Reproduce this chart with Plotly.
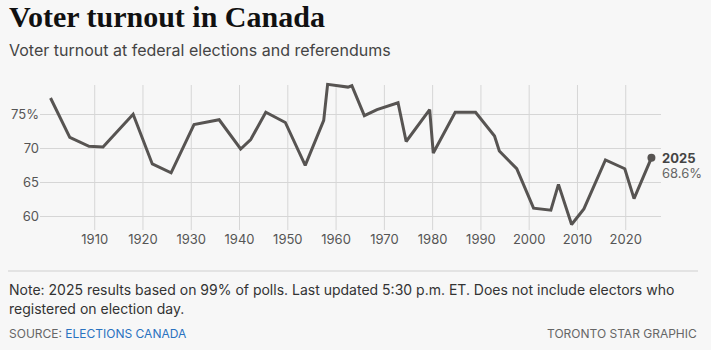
import plotly.graph_objects as go

dates = ["1900-11-07", "1904-11-03", "1908-10-26", "1911-09-21", "1917-12-17",
         "1921-12-06", "1925-10-29", "1930-07-28", "1935-10-14", "1940-03-26",
         "1942-04-27", "1945-06-11", "1949-06-27", "1953-08-10", "1957-06-10",
         "1958-03-31", "1962-06-18", "1963-04-08", "1965-11-08", "1968-06-25",
         "1972-10-30", "1974-07-08", "1979-05-22", "1980-02-18", "1984-09-04",
         "1988-11-21", "1992-10-26", "1993-10-25", "1997-06-02", "2000-11-27",
         "2004-06-28", "2006-01-23", "2008-10-14", "2011-05-02", "2015-10-19",
         "2019-10-21", "2021-09-20", "2025-04-28"]
turnout = [77.4, 71.6, 70.3, 70.2, 75.0,
           67.7, 66.4, 73.5, 74.2, 69.9,
           71.3, 75.3, 73.8, 67.5, 74.1,
           79.4, 79.0, 79.2, 74.8, 75.7,
           76.7, 71.0, 75.7, 69.3, 75.3,
           75.3, 71.8, 69.6, 67.0, 61.2,
           60.9, 64.7, 58.8, 61.1, 68.3,
           67.0, 62.6, 68.6]

x_tick_vals = ["1910-01-01", "1920-01-01", "1930-01-01", "1940-01-01", "1950-01-01",
               "1960-01-01", "1970-01-01", "1980-01-01", "1990-01-01", "2000-01-01",
               "2010-01-01", "2020-01-01"]
x_tick_text = ["1910", "1920", "1930", "1940", "1950", "1960", "1970", "1980",
               "1990", "2000", "2010", "2020"]
y_tick_vals = [60, 65, 70, 75]
y_tick_text = ["60", "65", "70", "75%"]

last_label = "2025"
last_value = "68.6%"

LINE = "#575452"
BG = "#f7f7f7"
GRID = "#d6d6d6"
FONT = "Inter, 'Noto Sans', sans-serif"

Y_MIN, Y_GRID_TOP, Y_MAX = 57.99, 79.31, 79.75
W, H = 711, 350
ML, MR, MT, MB = 40, 50, 82, 120

fig = go.Figure()
fig.add_trace(go.Scatter(
    x=dates, y=turnout, mode="lines", cliponaxis=False,
    line=dict(color=LINE, width=3), hoverinfo="skip", showlegend=False,
))
fig.add_trace(go.Scatter(
    x=[dates[-1]], y=[turnout[-1]], mode="markers", cliponaxis=False,
    marker=dict(color=LINE, size=8), hoverinfo="skip", showlegend=False,
))

fig.add_annotation(
    x=dates[-1], y=turnout[-1], xref="x", yref="y",
    text="<b>" + last_label + "</b>", showarrow=False,
    xanchor="left", yanchor="middle", xshift=9, yshift=0,
    font=dict(family=FONT, size=13, color="#444"),
)
fig.add_annotation(
    x=dates[-1], y=turnout[-1], xref="x", yref="y",
    text=last_value, showarrow=False,
    xanchor="left", yanchor="middle", xshift=9, yshift=-15,
    font=dict(family=FONT, size=13, color="#666"),
)

# Title, subtitle and footer given in pixel positions, converted below
px_annotations = [
    dict(x=7, y=17, text="<b>Voter turnout in Canada</b>", anchor="left",
         font=dict(family="'Liberation Serif', 'DejaVu Serif', serif", size=30, color="#111")),
    dict(x=7, y=50, text="Voter turnout at federal elections and referendums", anchor="left",
         font=dict(family=FONT, size=16, color="#444")),
    dict(x=7, y=289, text="Note: 2025 results based on 99% of polls. Last updated 5:30 p.m. ET. Does not include electors who",
         anchor="left", font=dict(family=FONT, size=14, color="#333")),
    dict(x=7, y=308, text="registered on election day.", anchor="left",
         font=dict(family=FONT, size=14, color="#333")),
    dict(x=7, y=333, text="SOURCE: <span style='color:#2a72c0'>ELECTIONS CANADA</span>", anchor="left",
         font=dict(family=FONT, size=12, color="#666")),
    dict(x=699, y=333, text="TORONTO STAR GRAPHIC", anchor="right",
         font=dict(family=FONT, size=12, color="#666")),
]
plot_w = W - ML - MR
plot_h = H - MT - MB
for a in px_annotations:
    fig.add_annotation(
        x=(a["x"] - ML) / plot_w, y=(H - a["y"] - MB) / plot_h,
        xref="paper", yref="paper", text=a["text"], showarrow=False,
        xanchor=a["anchor"], yanchor="middle", font=a["font"],
    )

shapes = []
for tv in x_tick_vals:
    shapes.append(dict(type="line", xref="x", yref="y", x0=tv, x1=tv,
                       y0=Y_MIN, y1=Y_GRID_TOP, layer="below",
                       line=dict(color=GRID, width=1)))
sep_y = (H - 271 - MB) / plot_h
shapes.append(dict(type="line", xref="paper", yref="paper",
                   x0=(8 - ML) / plot_w, x1=(698 - ML) / plot_w, y0=sep_y, y1=sep_y,
                   line=dict(color="#cfcfcf", width=1)))

fig.update_layout(
    width=W, height=H,
    margin=dict(l=ML, r=MR, t=MT, b=MB, autoexpand=False),
    paper_bgcolor=BG, plot_bgcolor=BG,
    font=dict(family=FONT, size=13, color="#555"),
    xaxis=dict(
        type="date", range=["1898-09-01", "2027-04-22"],
        tickvals=x_tick_vals, ticktext=x_tick_text,
        showgrid=False, zeroline=False, automargin=False,
        showline=False, ticks="", tickfont=dict(size=13, color="#555"),
    ),
    yaxis=dict(
        range=[Y_MIN, Y_MAX], tickvals=y_tick_vals, ticktext=y_tick_text,
        showgrid=True, gridcolor=GRID, gridwidth=1, zeroline=False, automargin=False,
        showline=False, ticks="", tickfont=dict(size=13, color="#555"),
    ),
    shapes=shapes,
)

fig.write_html("out.html")
